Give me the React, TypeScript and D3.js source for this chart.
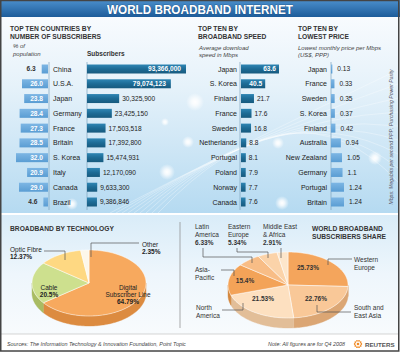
import React, { useEffect, useRef } from 'react';
import * as d3 from 'd3';

// subscribers panel
const subCountries = ['China', 'U.S.A.', 'Japan', 'Germany', 'France', 'Britain', 'S. Korea', 'Italy', 'Canada', 'Brazil'];
const popShare = [6.3, 26.0, 23.8, 28.4, 27.3, 28.5, 32.0, 20.9, 29.0, 4.6];
const subscribers = [93366000, 79074123, 30325900, 23425150, 17503518, 17392800, 15474931, 12170090, 9633300, 9386846];

// speed panel
const speedCountries = ['Japan', 'S. Korea', 'Finland', 'France', 'Sweden', 'Netherlands', 'Portugal', 'Poland', 'Norway', 'Canada'];
const speedMbps = [63.6, 40.5, 21.7, 17.6, 16.8, 8.8, 8.1, 7.9, 7.7, 7.6];

// price panel
const priceCountries = ['Japan', 'France', 'Sweden', 'S. Korea', 'Finland', 'Australia', 'New Zealand', 'Germany', 'Portugal', 'Britain'];
const priceUsd = [0.13, 0.33, 0.35, 0.37, 0.42, 0.94, 1.05, 1.1, 1.24, 1.24];

// pies
const techLabels = ['Digital Subscriber Line', 'Cable', 'Optic Fibre', 'Other'];
const techShare = [64.79, 20.5, 12.37, 2.35];
const regionLabels = ['Western Europe', 'South and East Asia', 'North America', 'Asia-Pacific', 'Latin America', 'Eastern Europe', 'Middle East & Africa'];
const regionShare = [25.73, 22.76, 21.53, 15.4, 6.33, 5.34, 2.91];

const DARK_BAR = '#1d6b95';
const LIGHT_BAR = '#66a7db';

type Opts = { size?: number; weight?: string; style?: string; anchor?: string; fill?: string };

const App: React.FC = () => {
  const svgRef = useRef<SVGSVGElement>(null);

  useEffect(() => {
    if (!svgRef.current) return;
    const svg = d3.select(svgRef.current);
    svg.selectAll('*').remove();

    const T = (sel: any, x: number, y: number, s: string, o: Opts = {}) =>
      sel.append('text')
        .attr('x', x).attr('y', y)
        .attr('font-size', o.size ?? 7)
        .attr('font-weight', o.weight ?? 'normal')
        .attr('font-style', o.style ?? 'normal')
        .attr('text-anchor', o.anchor ?? 'start')
        .attr('fill', o.fill ?? '#222')
        .text(s);

    const defs = svg.append('defs');
    const lg = (id: string, stops: [number, string][], vertical = true) => {
      const g = defs.append('linearGradient').attr('id', id)
        .attr('x1', 0).attr('y1', 0).attr('x2', vertical ? 0 : 1).attr('y2', vertical ? 1 : 0);
      stops.forEach(([o, c]) => g.append('stop').attr('offset', o).attr('stop-color', c));
    };
    lg('titleGrad', [[0, '#4b8fcc'], [1, '#1d5c9a']]);
    lg('topGrad', [[0, '#f8fbfe'], [0.35, '#e6f2fa'], [1, '#b5daf1']]);
    lg('botGrad', [[0, '#d9ecf8'], [0.5, '#eef6fc'], [1, '#f8fbfd']]);
    lg('darkBar', [[0, '#2f86b4'], [0.5, DARK_BAR], [1, '#175a7e']]);
    lg('lightBar', [[0, '#7db6e4'], [1, '#5a9dd3']]);
    const rg = defs.append('radialGradient').attr('id', 'glow');
    rg.append('stop').attr('offset', 0).attr('stop-color', '#fff').attr('stop-opacity', 1);
    rg.append('stop').attr('offset', 0.35).attr('stop-color', '#fff').attr('stop-opacity', 0.8);
    rg.append('stop').attr('offset', 1).attr('stop-color', '#fff').attr('stop-opacity', 0);

    // backgrounds
    svg.append('rect').attr('x', 0).attr('y', 0).attr('width', 400).attr('height', 353).attr('fill', '#fff');
    svg.append('rect').attr('x', 1).attr('y', 17).attr('width', 397).attr('height', 196).attr('fill', 'url(#topGrad)');
    svg.append('rect').attr('x', 1).attr('y', 215).attr('width', 397).attr('height', 119).attr('fill', 'url(#botGrad)');

    // decorative swooshes
    d3.range(9).forEach(k => {
      svg.append('path')
        .attr('d', `M ${110 + k * 6} 213 Q ${230 + k * 8} ${150 - k * 10} 398 ${70 + k * 14}`)
        .attr('fill', 'none').attr('stroke', '#fff').attr('stroke-opacity', 0.45).attr('stroke-width', 0.7);
    });
    const glows: [number, number, number][] = [[195, 102, 9], [188, 142, 6], [167, 172, 8], [278, 143, 6], [375, 158, 7], [282, 203, 7], [72, 204, 6], [165, 122, 4]];
    glows.forEach(([x, y, r]) => svg.append('circle').attr('cx', x).attr('cy', y).attr('r', r).attr('fill', 'url(#glow)'));

    // title
    svg.append('rect').attr('x', 0).attr('y', 0).attr('width', 400).attr('height', 17).attr('fill', 'url(#titleGrad)');
    T(svg, 200, 14, 'WORLD BROADBAND INTERNET', { size: 12.5, weight: 'bold', anchor: 'middle', fill: '#fff' })
      .attr('textLength', 186).attr('lengthAdjust', 'spacingAndGlyphs')
      .attr('stroke', '#1a4a7a').attr('stroke-width', 0.6).attr('paint-order', 'stroke');

    // headers
    const H = { size: 6.7, weight: 'bold', fill: '#333' };
    const S = { size: 6, style: 'italic', fill: '#444' };
    T(svg, 10, 31, 'TOP TEN COUNTRIES BY', H);
    T(svg, 10, 38.5, 'NUMBER OF SUBSCRIBERS', H);
    T(svg, 13, 48, '% of', S);
    T(svg, 13, 56, 'population', S);
    T(svg, 87, 56, 'Subscribers', { size: 6.5, weight: 'bold', fill: '#333' });
    T(svg, 198, 31, 'TOP TEN BY', H);
    T(svg, 198, 38.5, 'BROADBAND SPEED', H);
    T(svg, 199, 50, 'Average download', S);
    T(svg, 199, 57, 'speed in Mbps', S);
    T(svg, 298, 31, 'TOP TEN BY', H);
    T(svg, 298, 38.5, 'LOWEST PRICE', H);
    T(svg, 298, 50, 'Lowest monthly price per Mbps', S);
    T(svg, 298, 57, '(US$, PPP)', S);
    T(svg, 0, 0, 'Mbps: Megabits per second    PPP: Purchasing Power Parity', { size: 5.2, style: 'italic', anchor: 'middle', fill: '#556' })
      .attr('transform', 'translate(393,137) rotate(-90)');

    const rowY = d3.scalePoint<number>().domain(d3.range(10)).range([69, 202]);
    const bh = 9;

    // axis lines
    [49, 87, 240, 331].forEach(x => {
      svg.append('line').attr('x1', x).attr('x2', x).attr('y1', 62).attr('y2', 210)
        .attr('stroke', '#7fa3bd').attr('stroke-width', 0.7);
    });

    // population share (bars grow to the left)
    const popX = d3.scaleLinear().domain([0, 32]).range([48, 16]);
    popShare.forEach((v, i) => {
      const y = rowY(i)!;
      svg.append('rect').attr('x', popX(v)).attr('y', y - bh / 2).attr('width', popX(0) - popX(v)).attr('height', bh)
        .attr('fill', 'url(#lightBar)');
      if (v > 15) T(svg, 43, y + 2.4, v.toFixed(1), { size: 6.6, weight: 'bold', anchor: 'end', fill: '#fff' });
      else T(svg, popX(v) - 6, y + 2.4, v.toFixed(1), { size: 6.6, weight: 'bold', anchor: 'end', fill: '#333' });
      T(svg, 53, y + 2.5, subCountries[i], { size: 7 });
    });

    // subscribers
    const subX = d3.scaleLinear().domain([0, 93366000]).range([87, 186]);
    const fmt = d3.format(',');
    subscribers.forEach((v, i) => {
      const y = rowY(i)!;
      svg.append('rect').attr('x', subX(0)).attr('y', y - bh / 2).attr('width', subX(v) - subX(0)).attr('height', bh)
        .attr('fill', 'url(#darkBar)');
      if (v > 50000000) T(svg, subX(v) - 5, y + 2.4, fmt(v), { size: 6.6, weight: 'bold', anchor: 'end', fill: '#fff' });
      else T(svg, subX(v) + 3, y + 2.4, fmt(v), { size: 6.6, fill: '#222' });
    });

    // speed
    const spX = d3.scaleLinear().domain([0, 63.6]).range([241, 279]);
    speedMbps.forEach((v, i) => {
      const y = rowY(i)!;
      T(svg, 237, y + 2.5, speedCountries[i], { size: 7, anchor: 'end' });
      svg.append('rect').attr('x', spX(0)).attr('y', y - bh / 2).attr('width', spX(v) - spX(0)).attr('height', bh)
        .attr('fill', 'url(#darkBar)');
      if (v > 30) T(svg, spX(v) - 3, y + 2.4, v.toFixed(1), { size: 6.6, weight: 'bold', anchor: 'end', fill: '#fff' });
      else T(svg, spX(v) + 3, y + 2.4, v.toFixed(1), { size: 6.6, fill: '#222' });
    });

    // price
    const prX = d3.scaleLinear().domain([0, 1.24]).range([331, 344]);
    priceUsd.forEach((v, i) => {
      const y = rowY(i)!;
      T(svg, 327, y + 2.5, priceCountries[i], { size: 7, anchor: 'end' });
      svg.append('rect').attr('x', prX(0)).attr('y', y - bh / 2).attr('width', prX(v) - prX(0)).attr('height', bh)
        .attr('fill', 'url(#lightBar)');
      T(svg, prX(v) + 5, y + 2.4, String(v), { size: 6.6, fill: '#222' });
    });

    // 3D elliptical pie
    const line = d3.line();
    const drawPie = (values: number[], tops: string[], sides: string[], cx: number, cy: number, rx: number, ry: number, depth: number) => {
      const g = svg.append('g');
      const arcs = d3.pie<number>().sort(null).value(d => d)(values);
      const pt = (a: number, dy = 0): [number, number] => [cx + rx * Math.sin(a), cy - ry * Math.cos(a) + dy];
      const samples = (a0: number, a1: number, dy = 0) => {
        const n = Math.max(2, Math.ceil((a1 - a0) / 0.03));
        return d3.range(n + 1).map(k => pt(a0 + (a1 - a0) * k / n, dy));
      };
      arcs.forEach((a, i) => {
        const lo = Math.max(a.startAngle, Math.PI / 2);
        const hi = Math.min(a.endAngle, 1.5 * Math.PI);
        if (hi <= lo) return;
        const pts = [...samples(lo, hi), ...samples(lo, hi, depth).reverse()];
        g.append('path').attr('d', line(pts) + 'Z').attr('fill', sides[i])
          .attr('stroke', sides[i]).attr('stroke-width', 0.4);
      });
      arcs.forEach((a, i) => {
        const pts: [number, number][] = [[cx, cy], ...samples(a.startAngle, a.endAngle)];
        g.append('path').attr('d', line(pts) + 'Z').attr('fill', tops[i])
          .attr('stroke', '#fff').attr('stroke-width', 0.5).attr('stroke-linejoin', 'round');
      });
    };

    const lead = (pts: [number, number][]) =>
      svg.append('path').attr('d', line(pts)).attr('fill', 'none').attr('stroke', '#555').attr('stroke-width', 0.7);

    // technology pie
    T(svg, 10, 231, 'BROADBAND BY TECHNOLOGY', H);
    drawPie(techShare, ['#f7a95e', '#cde08e', '#fed882', '#fdf7ea'], ['#dc8b40', '#a9bc63', '#e2b95c', '#e8dcc4'], 89, 283, 57, 33, 10);
    const pct = (v: number) => `${v}%`;
    T(svg, 128, 290, 'Digital', { size: 6.5, anchor: 'middle' });
    T(svg, 128, 297, 'Subscriber Line', { size: 6.5, anchor: 'middle' });
    T(svg, 128, 304, pct(techShare[0]), { size: 6.5, weight: 'bold', anchor: 'middle' });
    T(svg, 49, 290, techLabels[1], { size: 6.5, anchor: 'middle' });
    T(svg, 49, 297, pct(techShare[1]), { size: 6.5, weight: 'bold', anchor: 'middle' });
    T(svg, 10, 252, techLabels[2], { size: 6.5 });
    T(svg, 10, 259, pct(techShare[2]), { size: 6.5, weight: 'bold' });
    lead([[44, 251], [65, 251], [65, 260]]);
    T(svg, 142, 247, techLabels[3], { size: 6.5 });
    T(svg, 142, 254, pct(techShare[3]), { size: 6.5, weight: 'bold' });
    lead([[91, 257], [91, 243], [139, 243]]);

    svg.append('line').attr('x1', 180).attr('x2', 180).attr('y1', 222).attr('y2', 328)
      .attr('stroke', '#888').attr('stroke-width', 0.7);

    // region pie
    drawPie(regionShare,
      ['#f4a55c', '#f9c898', '#fde0c0', '#f3a358', '#f8bd86', '#fbd3a9', '#fde6cb'],
      ['#d58a44', '#dba674', '#e2be98', '#d4883f', '#d9a06a', '#ddb288', '#e2c6a4'],
      288, 285, 60, 33, 10);
    T(svg, 312, 231, 'WORLD BROADBAND', H);
    T(svg, 312, 238.5, 'SUBSCRIBERS SHARE', H);
    const L = { size: 6.5, fill: '#333' };
    const B = { size: 6.5, weight: 'bold', fill: '#333' };
    T(svg, 195, 229, 'Latin', L); T(svg, 195, 237, 'America', L); T(svg, 195, 245, pct(regionShare[4]), B);
    T(svg, 228, 229, 'Eastern', L); T(svg, 228, 237, 'Europe', L); T(svg, 228, 245, pct(regionShare[5]), B);
    T(svg, 263, 229, 'Middle East', L); T(svg, 263, 237, '& Africa', L); T(svg, 263, 245, pct(regionShare[6]), B);
    T(svg, 195, 272, 'Asia-', L); T(svg, 195, 280, 'Pacific', L);
    T(svg, 196, 310, 'North', L); T(svg, 196, 318, 'America', L);
    T(svg, 354, 262, 'Western', L); T(svg, 354, 270, 'Europe', L);
    T(svg, 354, 310, 'South and', L); T(svg, 354, 318, 'East Asia', L);
    T(svg, 245, 283, pct(regionShare[3]), { ...B, anchor: 'middle' });
    T(svg, 263, 301, pct(regionShare[2]), { ...B, anchor: 'middle' });
    T(svg, 308, 270, pct(regionShare[0]), { ...B, anchor: 'middle' });
    T(svg, 316, 301, pct(regionShare[1]), { ...B, anchor: 'middle' });
    lead([[203, 248], [203, 257], [252, 257], [252, 263]]);
    lead([[237, 248], [237, 252], [268, 252], [268, 258]]);
    lead([[281, 248], [281, 258]]);
    lead([[221, 270], [234, 270], [234, 276]]);
    lead([[222, 310], [243, 310], [243, 303]]);
    lead([[328, 265], [328, 259], [352, 259]]);
    lead([[317, 305], [317, 312], [351, 312]]);

    // footer
    svg.append('line').attr('x1', 1).attr('x2', 399).attr('y1', 334).attr('y2', 334).attr('stroke', '#bbb').attr('stroke-width', 0.6);
    T(svg, 7, 346, 'Sources: The Information Technology & Innovation Foundation, Point Topic', { size: 5.4, style: 'italic', fill: '#444' });
    T(svg, 268, 346, 'Note: All figures are for Q4 2008', { size: 5.4, style: 'italic', fill: '#444' });
    d3.range(10).forEach(k => {
      const a = (k / 10) * 2 * Math.PI;
      svg.append('circle').attr('cx', 358 + 3.3 * Math.cos(a)).attr('cy', 344 + 3.3 * Math.sin(a)).attr('r', 0.9).attr('fill', '#f08a24');
    });
    svg.append('circle').attr('cx', 358).attr('cy', 344).attr('r', 1.3).attr('fill', '#f08a24');
    T(svg, 365, 346.5, 'REUTERS', { size: 6.2, weight: 'bold', fill: '#555' });

    // frame
    svg.append('rect').attr('x', 0.75).attr('y', 0.5).attr('width', 398).attr('height', 350.5)
      .attr('fill', 'none').attr('stroke', '#444').attr('stroke-width', 1.5);
  }, []);

  return (
    <svg ref={svgRef} width={400} height={353}
      style={{ position: 'absolute', left: 0, top: 0, fontFamily: '"Liberation Sans", Arial, sans-serif' }} />
  );
};

export default App;
